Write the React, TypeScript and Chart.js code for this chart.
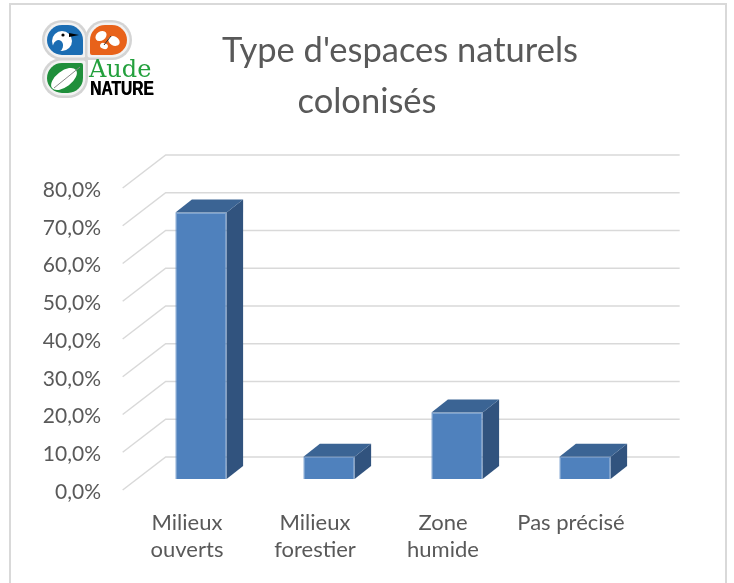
import React, { useEffect, useRef } from "react";
import { Chart, registerables } from "chart.js";

Chart.register(...registerables);

// ---- data ----
const categories: string[][] = [
  ["Milieux", "ouverts"],
  ["Milieux", "forestier"],
  ["Zone", "humide"],
  ["Pas précisé"],
];
const shares: number[] = [70.6, 5.9, 17.6, 5.9];
const yTickValues: number[] = [0, 10, 20, 30, 40, 50, 60, 70, 80];
const titleLines: string[] = ["Type d'espaces naturels", "colonisés"];
const logoWords: string[] = ["Aude", "NATURE"];

// ---- style ----
const TEXT = "#595959";
const GRID = "#d9d9d9";
const FRONT = "#4f81bd";
const TOP = "#3b6494";
const SIDE = "#31537e";
const FLOOR_DX = 43;
const FLOOR_DY = 33;
const BAR_DX = 16.5;
const BAR_DY = 13;

const fmtPct = (v: number) => v.toFixed(1).replace(".", ",") + "%";

function drawLogo(ctx: CanvasRenderingContext2D) {
  const leaf = (x: number, y: number, w: number, h: number, radii: number[], color: string) => {
    ctx.beginPath();
    ctx.roundRect(x - 5, y - 5, w + 10, h + 10, radii.map((r) => (r > 3 ? r + 5 : 3)));
    ctx.fillStyle = "#d4d4d4";
    ctx.fill();
    ctx.beginPath();
    ctx.roundRect(x - 2.5, y - 2.5, w + 5, h + 5, radii.map((r) => (r > 3 ? r + 2.5 : 2)));
    ctx.fillStyle = "#f2f2f2";
    ctx.fill();
    ctx.beginPath();
    ctx.roundRect(x, y, w, h, radii);
    ctx.fillStyle = color;
    ctx.fill();
  };
  ctx.save();
  leaf(47, 25, 36, 30, [15, 15, 2, 15], "#1b6db3");
  leaf(90, 25, 37, 30, [15, 15, 15, 2], "#e8621a");
  leaf(47, 63, 36, 30, [15, 2, 15, 15], "#1f8f3b");

  // bird
  ctx.fillStyle = "#ffffff";
  ctx.beginPath();
  ctx.ellipse(62, 41, 10, 10, 0, 0, Math.PI * 2);
  ctx.fill();
  ctx.fillStyle = "#1b6db3";
  ctx.beginPath();
  ctx.ellipse(58, 46, 5, 6, 0.3, 0, Math.PI * 2);
  ctx.fill();
  ctx.fillStyle = "#000";
  ctx.beginPath();
  ctx.arc(63, 35, 1.6, 0, Math.PI * 2);
  ctx.fill();
  ctx.beginPath();
  ctx.moveTo(69, 33);
  ctx.lineTo(79, 35);
  ctx.lineTo(69, 37);
  ctx.closePath();
  ctx.fill();

  // butterfly
  ctx.fillStyle = "#ffffff";
  ctx.beginPath();
  ctx.ellipse(101, 36, 6, 4.5, -0.6, 0, Math.PI * 2);
  ctx.fill();
  ctx.beginPath();
  ctx.ellipse(114, 41, 6, 4.5, 0.5, 0, Math.PI * 2);
  ctx.fill();
  ctx.beginPath();
  ctx.ellipse(104, 46, 4, 3, 0.3, 0, Math.PI * 2);
  ctx.fill();
  ctx.strokeStyle = "#333";
  ctx.lineWidth = 1;
  ctx.beginPath();
  ctx.moveTo(104, 45);
  ctx.lineTo(111, 36);
  ctx.stroke();

  // leaf
  ctx.fillStyle = "#ffffff";
  ctx.beginPath();
  ctx.ellipse(64, 79, 15, 8, -0.65, 0, Math.PI * 2);
  ctx.fill();
  ctx.strokeStyle = "#888";
  ctx.beginPath();
  ctx.moveTo(54, 88);
  ctx.lineTo(80, 67);
  ctx.stroke();

  // words
  ctx.fillStyle = "#23a03d";
  ctx.font = '24px "DejaVu Serif"';
  ctx.textAlign = "left";
  ctx.textBaseline = "alphabetic";
  ctx.fillText(logoWords[0], 89, 77);
  ctx.fillStyle = "#000";
  ctx.font = 'bold 21px "Liberation Sans"';
  ctx.translate(90, 95);
  ctx.scale(0.74, 1);
  ctx.fillText(logoWords[1], 0, 0);
  ctx.fillText(logoWords[1], 0.6, 0);
  ctx.restore();
}

const decorPlugin = {
  id: "decor",
  beforeDraw(chart: any) {
    const ctx = chart.ctx as CanvasRenderingContext2D;
    ctx.save();
    ctx.fillStyle = "#ffffff";
    ctx.fillRect(0, 0, chart.width, chart.height);
    ctx.strokeStyle = GRID;
    ctx.lineWidth = 2;
    ctx.strokeRect(10, 4, 716, 580);
    ctx.restore();
  },
  beforeDatasetsDraw(chart: any) {
    const ctx = chart.ctx as CanvasRenderingContext2D;
    const { chartArea } = chart;
    const y = chart.scales.y;
    const fx = -FLOOR_DX / 3;
    const fy = FLOOR_DY / 3;
    const bx = (FLOOR_DX * 2) / 3;
    const by = (-FLOOR_DY * 2) / 3;
    ctx.save();
    ctx.strokeStyle = GRID;
    ctx.lineWidth = 1.5;
    y.ticks.forEach((t: any) => {
      const py = y.getPixelForValue(t.value);
      ctx.beginPath();
      ctx.moveTo(chartArea.left + fx, py + fy);
      ctx.lineTo(chartArea.left + bx, py + by);
      ctx.lineTo(chartArea.right + bx + 2, py + by);
      ctx.stroke();
    });
    ctx.restore();
  },
  afterDatasetsDraw(chart: any) {
    const ctx = chart.ctx as CanvasRenderingContext2D;
    const meta = chart.getDatasetMeta(0);
    ctx.save();
    meta.data.forEach((el: any) => {
      const { x, y, base, width } = el.getProps(["x", "y", "base", "width"], true);
      const l = x - width / 2;
      const r = x + width / 2;
      ctx.fillStyle = SIDE;
      ctx.beginPath();
      ctx.moveTo(r, y);
      ctx.lineTo(r + BAR_DX, y - BAR_DY);
      ctx.lineTo(r + BAR_DX, base - BAR_DY);
      ctx.lineTo(r, base);
      ctx.closePath();
      ctx.fill();
      ctx.fillStyle = TOP;
      ctx.beginPath();
      ctx.moveTo(l, y);
      ctx.lineTo(r, y);
      ctx.lineTo(r + BAR_DX, y - BAR_DY);
      ctx.lineTo(l + BAR_DX, y - BAR_DY);
      ctx.closePath();
      ctx.fill();
    });
    ctx.restore();
  },
  afterDraw(chart: any) {
    const ctx = chart.ctx as CanvasRenderingContext2D;
    ctx.save();
    ctx.fillStyle = TEXT;
    ctx.font = '34.5px Lato';
    ctx.textAlign = "center";
    ctx.textBaseline = "alphabetic";
    ctx.fillText(titleLines[0], 400, 62);
    ctx.fillText(titleLines[1], 367, 113);
    ctx.restore();
    drawLogo(ctx);
  },
};

export default function App() {
  const ref = useRef<HTMLCanvasElement | null>(null);
  useEffect(() => {
    if (!ref.current) return;
    const chart = new Chart(ref.current, {
      type: "bar",
      data: {
        labels: categories as any,
        datasets: [
          {
            data: shares,
            backgroundColor: FRONT,
            borderColor: "#5d8cc6",
            borderWidth: 1,
            barPercentage: 0.4,
            categoryPercentage: 1,
          },
        ],
      },
      options: {
        animation: false,
        responsive: false,
        devicePixelRatio: 1,
        layout: { padding: { left: 0, right: 85, top: 177, bottom: 0 } },
        plugins: {
          legend: { display: false },
          title: { display: false },
          tooltip: { enabled: false },
        },
        scales: {
          x: {
            grid: { display: false, drawTicks: false },
            border: { display: false },
            ticks: {
              color: TEXT,
              font: { family: "Lato", size: 22, lineHeight: 1.23 },
              padding: 30,
              labelOffset: -14,
              maxRotation: 0,
              autoSkip: false,
            },
            afterFit: (s: any) => {
              s.height = 104;
            },
          },
          y: {
            min: 0,
            max: 80,
            grid: { display: false, drawTicks: false },
            border: { display: false },
            ticks: {
              color: TEXT,
              font: { family: "Lato", size: 21 },
              padding: 36,
              labelOffset: 13,
              callback: (v: any) => fmtPct(Number(v)),
            },
            afterBuildTicks: (s: any) => {
              s.ticks = yTickValues.map((v) => ({ value: v }));
            },
            afterFit: (s: any) => {
              s.width = 137;
            },
          },
        },
      },
      plugins: [decorPlugin],
    });
    return () => chart.destroy();
  }, []);
  return (
    <div style={{ position: "fixed", left: 0, top: 0, width: 734, height: 583, background: "#fff" }}>
      <canvas ref={ref} width={734} height={583} style={{ display: "block" }} />
    </div>
  );
}
